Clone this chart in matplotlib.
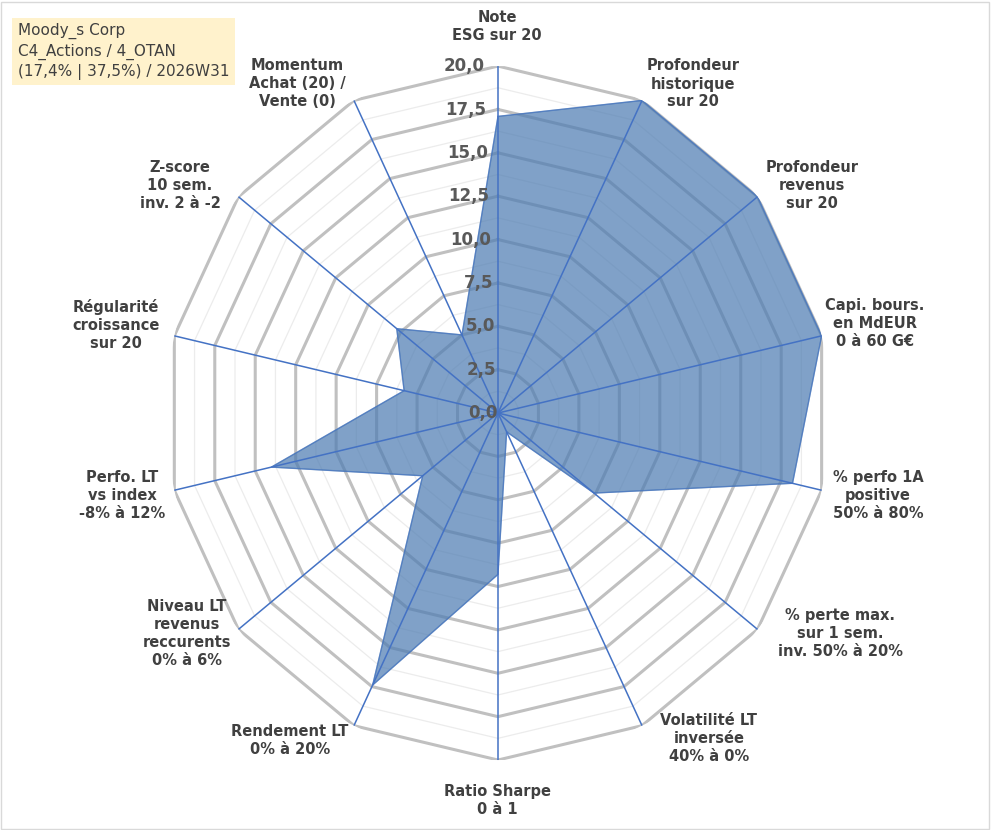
import matplotlib
matplotlib.use("Agg")
import matplotlib.pyplot as plt
import numpy as np

# ── data ────────────────────────────────────────────────────────────────────
LABELS = [
    "Note\nESG sur 20",
    "Profondeur\nhistorique\nsur 20",
    "Profondeur\nrevenus\nsur 20",
    "Capi. bours.\nen MdEUR\n0 à 60 G€",
    "% perfo 1A\npositive\n50% à 80%",
    "% perte max.\nsur 1 sem.\ninv. 50% à 20%",
    "Volatilité LT\ninversée\n40% à 0%",
    "Ratio Sharpe\n0 à 1",
    "Rendement LT\n0% à 20%",
    "Niveau LT\nrevenus\nreccurents\n0% à 6%",
    "Perfo. LT\nvs index\n-8% à 12%",
    "Régularité\ncroissance\nsur 20",
    "Z-score\n10 sem.\ninv. 2 à -2",
    "Momentum\nAchat (20) /\nVente (0)",
]
VALUES = [17.1, 20.0, 20.0, 20.0, 18.2, 7.4, 1.2, 9.3, 17.4, 5.8, 14.0, 5.8, 7.8, 5.0]
TICKS = [0, 2.5, 5, 7.5, 10, 12.5, 15, 17.5, 20]
TITLE = "Moody_s Corp\nC4_Actions / 4_OTAN\n(17,4% | 37,5%) / 2026W31"

# label centres in pixels (x, y from top)
LAB_PX = [(497, 26), (693, 84), (812, 186), (875, 323), (878, 495), (840, 633),
          (709, 738), (497, 800), (290, 740), (187, 633), (122, 495), (116, 325),
          (180, 186), (297, 84)]

W, H = 991, 830
n = len(LABELS)
theta = np.arange(n) * 2 * np.pi / n

fig = plt.figure(figsize=(W / 100, H / 100), dpi=100)
ax = fig.add_axes([0.1675, 0.0843, 0.670, 0.8361], projection="polar")
ax.set_aspect("auto")
ax.set_theta_offset(np.pi / 2)
ax.set_theta_direction(-1)
ax.set_ylim(0, 20)
ax.axis("off")

closed = np.append(theta, theta[0])
for r in np.arange(1.25, 20, 2.5):
    ax.plot(closed, [r] * (n + 1), color="#ececec", lw=0.9, zorder=1)
for r in TICKS[1:]:
    ax.plot(closed, [r] * (n + 1), color="#c0c0c0", lw=2.2, zorder=1)

vals = VALUES + VALUES[:1]
ax.fill(closed, vals, color="#4f7db3", alpha=0.72, zorder=2)
ax.plot(closed, vals, color="#4472c4", lw=0.8, alpha=0.6, zorder=3)

for t in theta:
    ax.plot([t, t], [0, 20], color="#4472c4", lw=1.1, zorder=4)

for r in TICKS:
    ax.text(-0.04, r, f"{r:.1f}".replace(".", ","), ha="right", va="center",
            fontsize=12, fontweight="bold", color="#595959", zorder=5)

for lab, (px, py) in zip(LABELS, LAB_PX):
    fig.text(px / W, 1 - py / H, lab, ha="center", va="center", fontsize=10.5,
             fontweight="bold", color="#404040", linespacing=1.25)

fig.text(0.018, 0.972, TITLE, ha="left", va="top", fontsize=11, color="#404040",
         linespacing=1.35,
         bbox=dict(boxstyle="square,pad=0.35", fc="#fff2cc", ec="none"))

fig.patches.append(plt.Rectangle((0.001, 0.001), 0.997, 0.997, transform=fig.transFigure,
                                 fill=False, ec="#d9d9d9", lw=1))

fig.savefig("out.png", dpi=100)
